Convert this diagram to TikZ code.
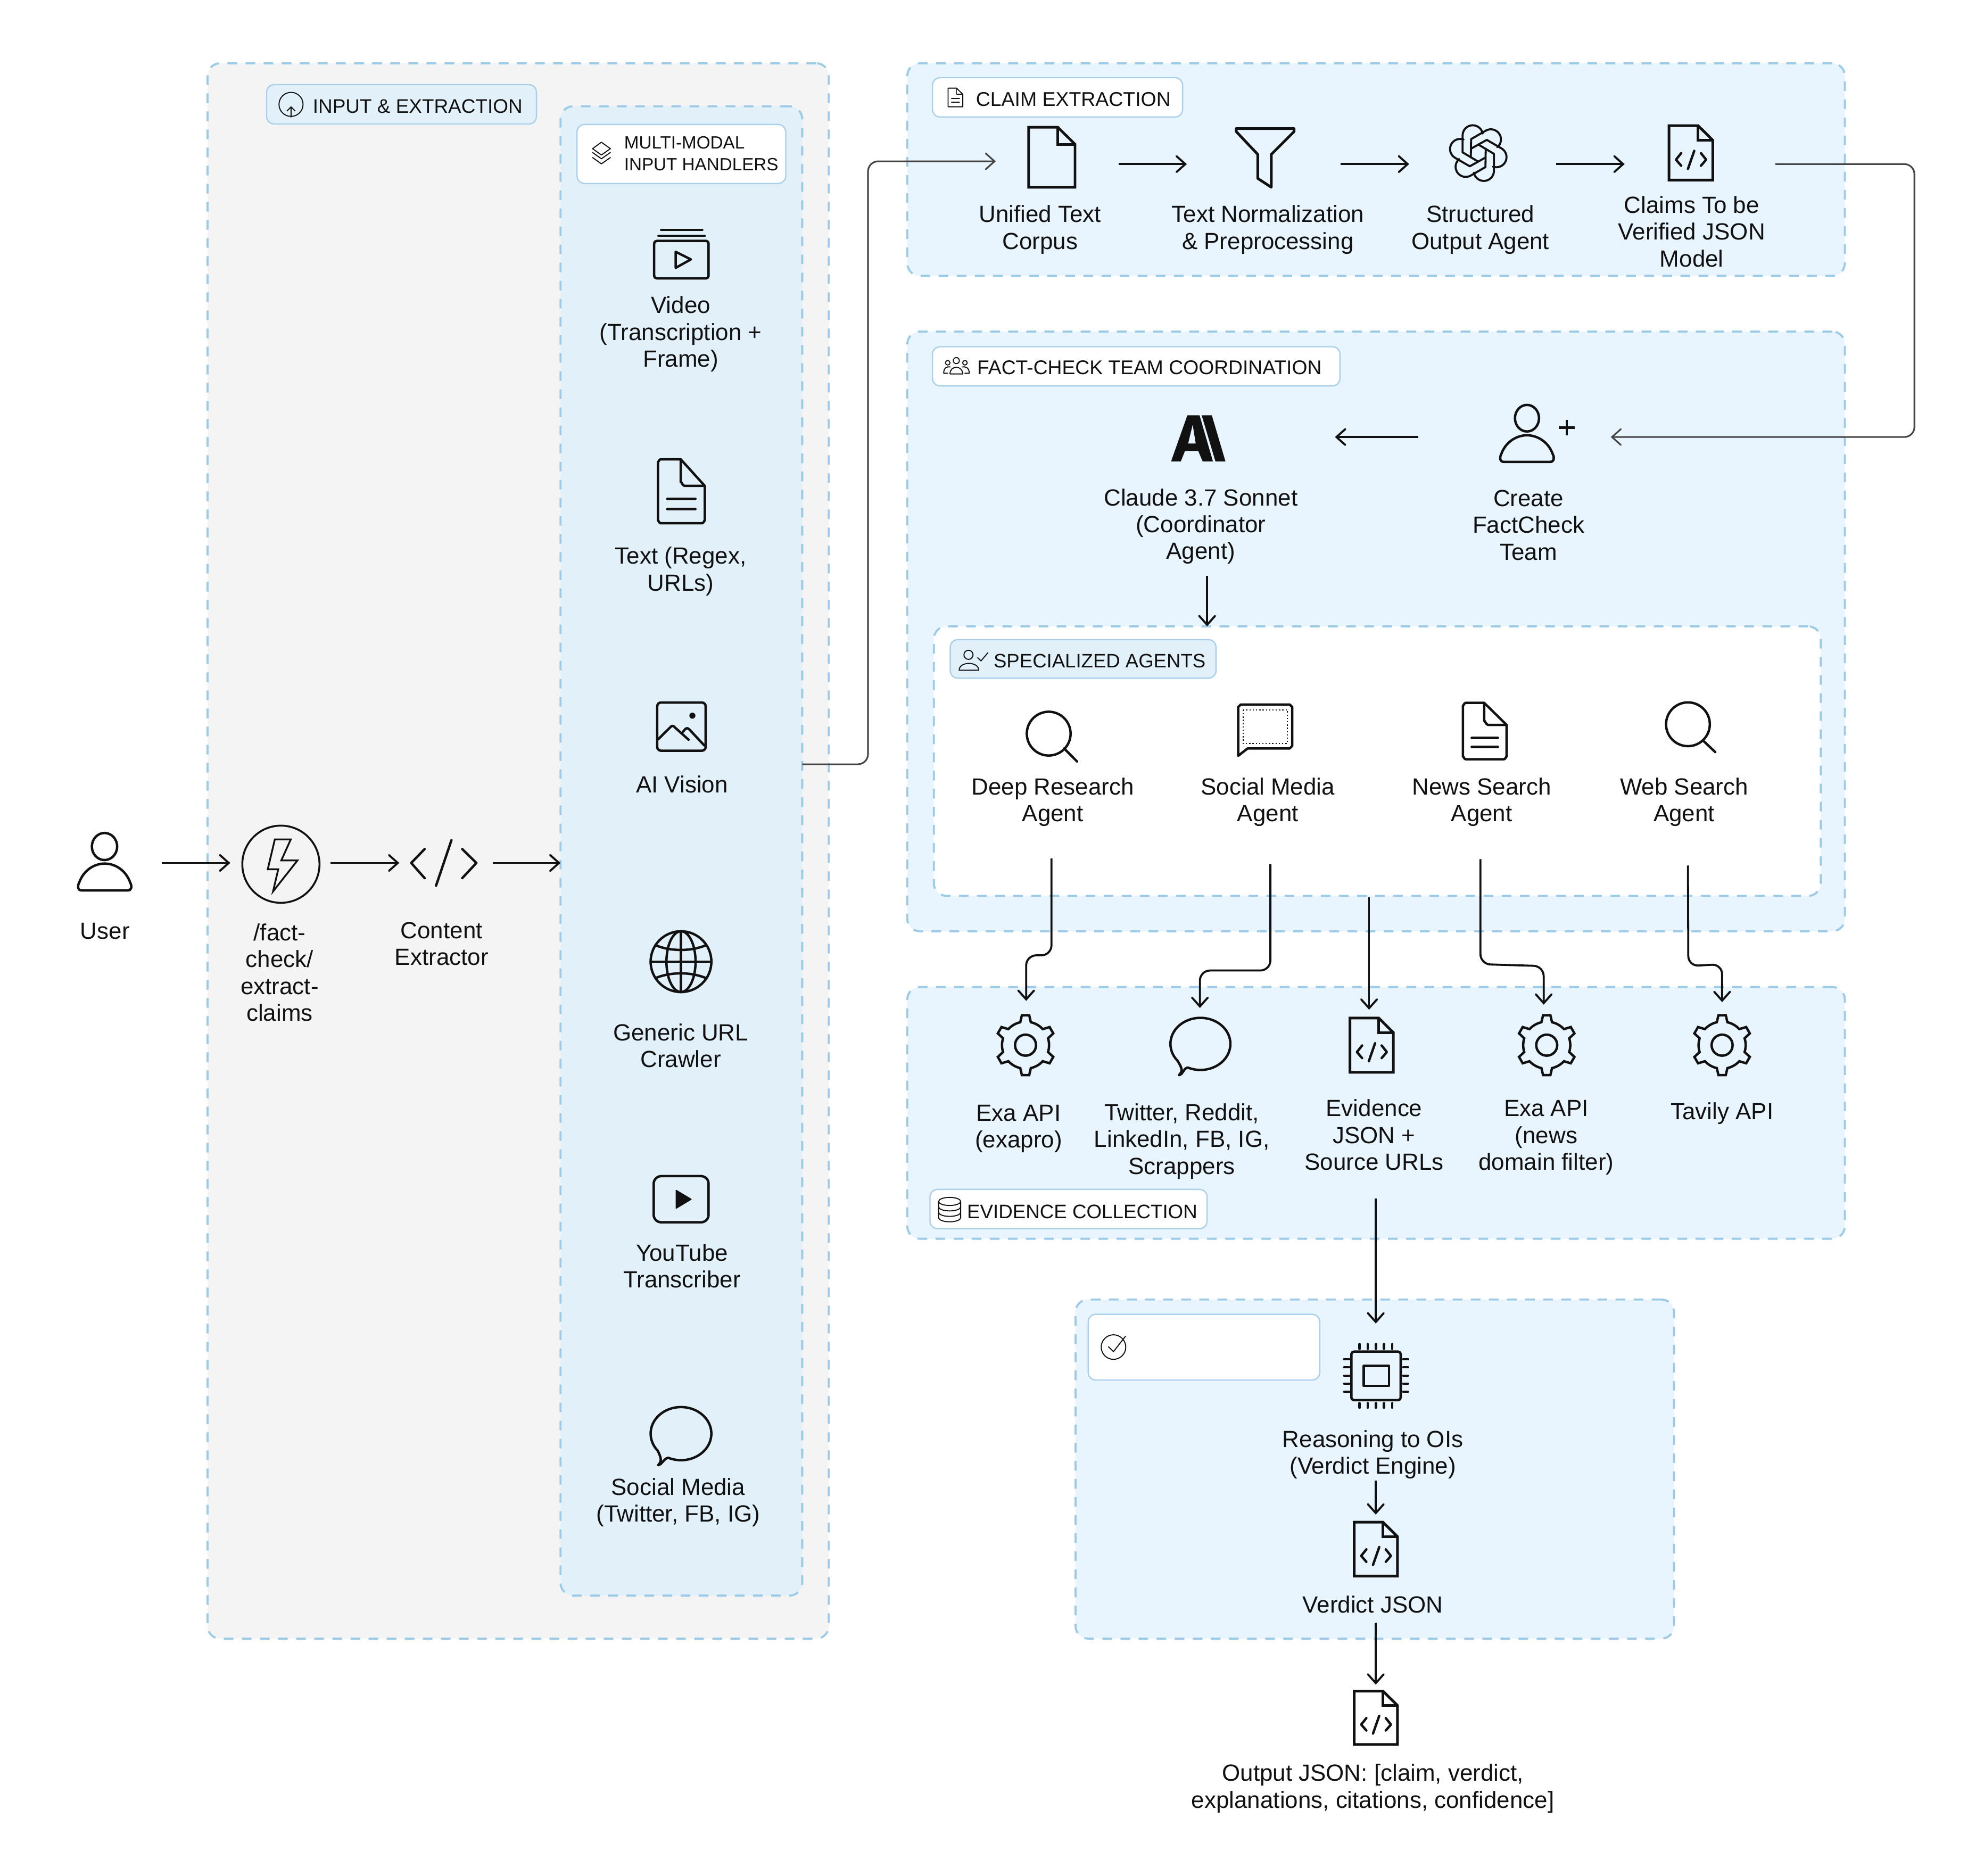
\documentclass[tikz,border=0pt]{standalone}
\usepackage{fontspec}
\setmainfont{Liberation Sans}
\usetikzlibrary{arrows.meta,calc}
\newlength\U
\setlength\U{0.023776cm}
\definecolor{dashblue}{HTML}{9CCBE8}
\definecolor{chipline}{HTML}{A8D0EA}
\definecolor{greyfill}{HTML}{F4F4F4}
\definecolor{handfill}{HTML}{E2F1F9}
\definecolor{panelfill}{HTML}{E8F4FE}
\definecolor{ink}{HTML}{111111}
\definecolor{softink}{HTML}{444444}
\tikzset{
  panel/.style={draw=dashblue,line width=1.6\U,dash pattern=on 7.6\U off 6.7\U,rounded corners=10\U,inner sep=0pt,outer sep=0pt},
  chip/.style={draw=chipline,line width=1\U,rounded corners=6\U,inner sep=0pt,outer sep=0pt},
  ibox/.style={inner sep=0pt,outer sep=0pt},
  lab/.style={align=center,inner sep=0pt,text=ink,font=\fontsize{12.5}{14.34}\selectfont},
  chiptext/.style={anchor=west,align=left,inner sep=0pt,text=ink,font=\fontsize{10.5}{11.6}\selectfont},
  ic/.style={draw=ink,line width=1.9\U,line join=round,line cap=round},
  icsq/.style={draw=ink,line width=2.1\U,line join=miter},
  icthin/.style={draw=ink,line width=.8\U,line join=round,line cap=round},
  arr/.style={draw=ink,line width=1.6\U,-{Straight Barb[length=4.74pt,width=8.46pt,line cap=round]},rounded corners=8\U},
  arrsoft/.style={draw=softink,line width=1.3\U,-{Straight Barb[length=4.74pt,width=8.46pt,line cap=round]},rounded corners=8\U},
}
\newcommand\Ibox[5]{\node[ibox,minimum width={(#4-#2)*\U},minimum height={(#5-#3)*\U}] (#1) at ({(#2+#4)/2},{(#3+#5)/2}) {};}
\newcommand\Panel[6]{\node[panel,fill=#6,minimum width={(#4-#2)*\U},minimum height={(#5-#3)*\U}] (#1) at ({(#2+#4)/2},{(#3+#5)/2}) {};}
\newcommand\Chip[6]{\node[chip,fill=#6,minimum width={(#4-#2)*\U},minimum height={(#5-#3)*\U}] (#1) at ({(#2+#4)/2},{(#3+#5)/2}) {};}
\newcommand\Lab[4]{\node[lab] (#1) at (#2,#3) {#4};}
\newcommand\Body[5][ic]{%
  \draw[#1] ({#2+3},#5) -- ({#3-3},#5)
   .. controls (#3,#5) and ({#3+.5},{#5-3}) .. ({#3-1},{#5-6})
   .. controls ({#3-5},{#4+4}) and ({(#2+#3)/2+7},#4) .. ({(#2+#3)/2},#4)
   .. controls ({(#2+#3)/2-7},#4) and ({#2+5},{#4+4}) .. ({#2+1},{#5-6})
   .. controls ({#2-.5},{#5-3}) and (#2,#5) .. ({#2+3},#5) -- cycle;}
% square document with code brackets
\newcommand\CodeDoc[4]{%
  \begin{scope}[shift={(#1,#2)},xscale=#3,yscale=#4]
    \draw[icsq] (0,0) -- (.665,0) -- (1,.267) -- (1,1) -- (0,1) -- cycle;
    \draw[icsq] (.665,0) -- (.665,.267) -- (1,.267);
    \draw[ic] (.28,.505) -- (.16,.626) -- (.28,.737);
    \draw[ic] (.73,.505) -- (.85,.626) -- (.73,.737);
    \draw[ic] (.578,.463) -- (.434,.795);
  \end{scope}}
% rounded document with two lines
\newcommand\LineDoc[8]{%
  \draw[#8] ({#1+2},#2) -- (#5,#2) -- (#3,#6) -- (#3,{#4-2}) to[out=90,in=0] ({#3-2},#4) -- ({#1+2},#4) to[out=180,in=90] (#1,{#4-2}) -- (#1,{#2+2}) to[out=-90,in=180] ({#1+2},#2) -- cycle;
  \draw[#8] (#5,#2) -- (#5,{#6-3}) to[out=90,in=180] ({#5+3},#6) -- (#3,#6);
  \draw[#8] ({#1+.2*(#3-#1)},{#2+.62*(#4-#2)}) -- ({#3-.2*(#3-#1)},{#2+.62*(#4-#2)});
  \draw[#8] ({#1+.2*(#3-#1)},{#2+.78*(#4-#2)}) -- ({#3-.2*(#3-#1)},{#2+.78*(#4-#2)});}
\newcommand\Bubble[6]{%
  \draw[ic] ({#1+#3*cos(140)},{#2+#4*sin(140)}) arc[start angle=140,end angle=475,x radius=#3,y radius=#4]
    .. controls ({#1+#3*cos(115)-4},{#2+#4*sin(115)+1}) and ({#5+4},{#6-1}) .. (#5,#6)
    .. controls ({#5+3},{#6-3}) and ({#5+3},{#6-5}) .. cycle;}
\newcommand\Gear[2]{%
  \begin{scope}[shift={(#1,#2)}]
    \draw[ic,line join=miter] (77:18.6) \foreach \a in {90,150,210,270,330,390}{
       -- ({\a-13}:18.6) -- ({\a-7}:23.8) -- ({\a+7}:23.8) -- ({\a+13}:18.6)
       arc[start angle={\a+13},end angle={\a+47},radius=18.6] } -- cycle;
    \draw[ic] (0,0) circle[radius=8.3];
  \end{scope}}
\newcommand\Lens[6]{%
  \draw[ic] (#1,#2) circle[radius=#3];
  \draw[ic] (#4,{#5}) -- #6;}
\begin{document}
\begin{tikzpicture}[x=0.023776cm,y=-0.023776cm]
\useasboundingbox (0,0) rectangle (1568,1482.2);
\fill[white] (0,0) rectangle (1568,1482.2);

% ---------- panels
\Panel{input}{164}{50}{655}{1295}{greyfill}
\Panel{handlers}{443}{84}{634}{1261}{handfill}
\Panel{claim}{717}{50}{1458}{218}{panelfill}
\Panel{factcheck}{717}{262}{1458}{736}{panelfill}
\Panel{special}{738}{495}{1439}{708}{white}
\Panel{evidence}{717}{780}{1458}{979}{panelfill}
\Panel{verdict}{850}{1027}{1323}{1295}{panelfill}

% ---------- chips
\Chip{chipinput}{210.7}{66.9}{424}{98}{handfill}
\node[chiptext] (tinput) at (247,84) {INPUT \& EXTRACTION};
\draw[icthin] (230,92) arc[start angle=90,end angle=450,radius=9.5];
\draw[icthin] (230,92.5) -- (230,84.5) (226.8,87.7) -- (230,84.5) -- (233.2,87.7);

\Chip{chipmulti}{456}{98.4}{621}{145}{white}
\node[chiptext,font=\fontsize{9.45}{11.6}\selectfont] (tmulti) at (493,121.5) {MULTI-MODAL\\INPUT HANDLERS};
\draw[icthin] (475.3,112.4) -- (482.4,117.5) -- (475.3,122.5) -- (468.3,117.5) -- cycle;
\draw[icthin] (468.3,120.5) -- (475.3,125.5) -- (482.4,120.5);
\draw[icthin] (468.3,124.5) -- (475.3,129.5) -- (482.4,124.5);

\Chip{chipclaim}{737}{61.4}{934.6}{92.5}{white}
\node[chiptext,font=\fontsize{10.65}{11.6}\selectfont] (tclaim) at (771,78.5) {CLAIM EXTRACTION};
\draw[icthin] (749.3,69.7) -- (756,69.7) -- (760.9,74.5) -- (760.9,84.4) -- (749.3,84.4) -- cycle;
\draw[icthin] (756,69.7) -- (756,74.5) -- (760.9,74.5) (752,78) -- (758.3,78) (752,80.8) -- (758.3,80.8);

\Chip{chipfact}{737}{274}{1059}{305}{white}
\node[chiptext,font=\fontsize{10.6}{11.6}\selectfont] (tfact) at (772,290.5) {FACT-CHECK TEAM COORDINATION};
\draw[icthin] (755.8,285) circle[radius=2.4] (749,286.7) circle[radius=1.8] (762.6,286.7) circle[radius=1.8];
\draw[icthin] (750.8,295.5) .. controls (750.8,288.5) and (760.8,288.5) .. (760.8,295.5) -- cycle;
\draw[icthin] (749,295) -- (745.8,295) .. controls (745.8,290.5) and (748.5,289.5) .. (751,290);
\draw[icthin] (762.5,295) -- (766,295) .. controls (766,290.5) and (763,289.5) .. (760.5,290);

\Chip{chipspec}{751}{505.5}{961}{536}{handfill}
\node[chiptext,font=\fontsize{10.4}{11.6}\selectfont] (tspec) at (785,522.5) {SPECIALIZED AGENTS};
\draw[icthin] (765.4,517.5) circle[radius=3.6];
\draw[icthin] (758,529.7) .. controls (758,522.5) and (773.5,522.5) .. (773.5,529.7) -- cycle;
\draw[icthin] (772.7,519.8) -- (775.3,522.3) -- (780.7,515.9);

\Chip{chipevid}{735}{940}{954}{971}{white}
\node[chiptext,font=\fontsize{10.45}{11.6}\selectfont] (tevid) at (764,957.5) {EVIDENCE COLLECTION};
\draw[icthin] (750.5,949.5) circle[x radius=8.7,y radius=3.2];
\draw[icthin] (741.8,949.5) -- (741.8,962.4) arc[start angle=180,end angle=0,x radius=8.7,y radius=3.2] -- (759.2,949.5);
\draw[icthin] (741.8,953.8) arc[start angle=180,end angle=0,x radius=8.7,y radius=3.2];
\draw[icthin] (741.8,958.1) arc[start angle=180,end angle=0,x radius=8.7,y radius=3.2];

\Chip{chipverd}{860}{1038.7}{1043}{1090.6}{white}
\draw[icthin] (880,1064.6) circle[radius=9.7];
\draw[icthin] (876,1064.3) -- (880,1068.2) -- (889.5,1056);

% ---------- left column
\Ibox{user}{61}{658}{128}{706}
\draw[ic] (82.6,669) circle[x radius=10,y radius=10.7];
\Body{61.5}{104}{682.5}{703.7}
\Lab{luser}{83}{736}{User}

\Ibox{api}{182}{652}{261}{712}
\draw[draw=ink,line width=1.5\U] (222,683) circle[radius=30.5];
\draw[draw=ink,line width=1.4\U,line join=miter] (217.2,663.4) -- (229.8,663.4) -- (222.3,680) -- (235.1,680) -- (215.8,704.5) -- (219.9,687) -- (211.6,687) -- cycle;
\Lab{lapi}{221}{768.5}{/fact-\\check/\\extract-\\claims}

\Ibox{extractor}{315.6}{664}{389.5}{700}
\draw[ic] (335.6,671) -- (325,682) -- (335.6,694);
\draw[ic] (356.8,664) -- (344.6,700);
\draw[ic] (365.3,671) -- (376.5,682) -- (365.3,694);
\Lab{lextractor}{349}{746}{Content\\Extractor}

% ---------- handlers
\Ibox{video}{517}{181}{560}{220}
\draw[ic,rounded corners=2\U] (517,190.4) rectangle (560,220);
\draw[ic] (520.4,186.4) -- (557,186.4);
\draw[ic] (522.5,181.7) -- (555,181.7);
\draw[ic] (534,199) -- (546,205) -- (534,211.7) -- cycle;
\Lab{lvideo}{538}{264}{Video\\(Transcription +\\Frame)}

\Ibox{textdoc}{520}{363}{557}{413.5}
\LineDoc{520}{363}{557}{413.5}{538}{384}{}{ic}
\Lab{ltext}{538}{451.5}{Text (Regex,\\URLs)}

\Ibox{vision}{519.4}{555.2}{634}{653}
\draw[ic,rounded corners=3\U] (519.4,555.2) rectangle (557.7,593.3);
\fill[ink] (547.2,565.6) circle[radius=2.4];
\draw[ic] (520.1,584.3) -- (529.5,575) .. controls (531,573.2) and (532,573.2) .. (533.5,575) -- (544.2,584.6);
\draw[ic] (539.8,578.3) -- (541.3,576.5) .. controls (542.5,575.2) and (543.5,575.2) .. (544.8,576.5) -- (556.6,589.1);
\Lab{lvision}{539}{620}{AI Vision}

\Ibox{globe}{514}{736}{562.4}{784}
\draw[ic] (538.2,760) circle[radius=24];
\draw[ic] (538.2,760) circle[x radius=11.5,y radius=24];
\draw[ic] (538.2,736) -- (538.2,784) (514.2,760) -- (562.2,760);
\draw[ic] (518,747) .. controls (530,752) and (546,752) .. (558,747);
\draw[ic] (518,773) .. controls (530,768) and (546,768) .. (558,773);
\Lab{lglobe}{538}{826.5}{Generic URL\\Crawler}

\Ibox{youtube}{516.6}{929.5}{560}{966}
\draw[ic,rounded corners=6\U] (516.6,929.5) rectangle (560,966);
\fill[ink,rounded corners=.8\U] (534,940) -- (547,947.8) -- (534,955.6) -- cycle;
\Lab{lyoutube}{539}{1000.5}{YouTube\\Transcriber}

\Ibox{bubbleA}{514}{1112}{562}{1158}
\Bubble{538.2}{1133}{24}{21}{520}{1158}
\Lab{lbubbleA}{536}{1187.5}{Social Media\\(Twitter, FB, IG)}

% ---------- claim extraction
\Ibox{unified}{787}{101}{884}{154}
\draw[icsq] (813,100.6) -- (836,100.6) -- (849.6,114) -- (849.6,148) -- (813,148) -- cycle;
\draw[icsq] (836,100.6) -- (836,114) -- (849.6,114);
\Lab{lunified}{822}{181.5}{Unified Text\\Corpus}

\Ibox{funnel}{938}{101.7}{1059.5}{157.7}
\draw[icsq,line join=round] (977,101.6) -- (1022.7,101.6) -- (1022.7,104) -- (1004.7,122) -- (1004.7,148) -- (994,141) -- (994,122) -- (977,104) -- cycle;
\Lab{lfunnel}{1002}{181.5}{Text Normalization\\\& Preprocessing}

\Ibox{openai}{1113.7}{99}{1230}{160.4}
\begin{scope}[shift={(1168.3,121)}]
  \foreach \a in {0,60,120,180,240,300}{
    \draw[ic,line width=1.6\U,rotate=\a] (-.5,6.5) -- (-12.4,-.6) -- (-12.4,-14) arc[start angle=180,end angle=350,radius=8];
  }
\end{scope}
\Lab{lopenai}{1170}{181.5}{Structured\\Output Agent}

\Ibox{claimsdoc}{1284}{99}{1403}{160.4}
\CodeDoc{1319}{99.3}{34.6}{43}
\Lab{lclaimsdoc}{1337}{183}{Claims To be\\Verified JSON\\Model}

% ---------- fact-check team
\Ibox{create}{1120.8}{320}{1273}{370.8}
\draw[ic] (1206.8,330.5) circle[x radius=9.5,y radius=10.5];
\Body{1185.4}{1228.2}{344}{365}
\draw[draw=ink,line width=2\U] (1232,337.9) -- (1244.4,337.9) (1238.2,331.7) -- (1238.2,344.1);
\Lab{lcreate}{1208}{415}{Create\\FactCheck\\Team}

\Ibox{claude}{920}{326.4}{1055}{364.4}
\fill[ink,even odd rule] (925.5,364.7) -- (938.4,328.2) -- (948,328.2) -- (958.6,364.7) -- (950.5,364.7) -- (947,356.4) -- (936.5,356.4) -- (933.2,364.7) -- cycle
  (939,350.5) -- (945,350.5) -- (942.6,335.5) -- cycle;
\fill[ink] (949.7,328.2) -- (957.7,328.2) -- (968.5,364.7) -- (960.6,364.7) -- cycle;
\Lab{lclaude}{949}{416}{Claude 3.7 Sonnet\\(Coordinator\\Agent)}
\coordinate (claudeout) at (954,455);

% ---------- specialised agents
\Ibox{deep}{770}{555}{892}{678.5}
\Lens{828.8}{579.8}{17.3}{841}{591.5}{(851.2,601.8)}
\Lab{ldeep}{832}{634}{Deep Research\\Agent}

\Ibox{socialag}{950}{555}{1058}{683}
\draw[ic] (980.6,556.8) -- (1019.3,556.8) -- (1021.3,558.8) -- (1021.3,589.5) -- (1019.3,591.5) -- (986,591.5) -- (978.6,597.3) -- (978.6,558.8) -- cycle;
\draw[draw=ink,line width=.9\U,dash pattern=on 1\U off 1.6\U] (982.4,561) rectangle (1017.5,587.4);
\Lab{lsocialag}{1002}{634}{Social Media\\Agent}

\Ibox{news}{1120}{555}{1220}{679}
\LineDoc{1156.2}{555.5}{1190.7}{600}{1173}{572.9}{}{ic}
\Lab{lnews}{1171}{634}{News Search\\Agent}

\Ibox{webag}{1280}{555}{1388}{684}
\Lens{1334}{572.4}{17.3}{1346}{585.3}{(1355.6,594.4)}
\Lab{lwebag}{1331}{634}{Web Search\\Agent}

\coordinate (specout) at (1082,709);

% ---------- evidence
\Ibox{exaA}{788}{791}{834}{850}
\Gear{810.5}{826}
\Lab{lexaA}{805}{892}{Exa API\\(exapro)}

\Ibox{twitter}{925}{796.6}{971.6}{850}
\Bubble{948.7}{825}{23.7}{20.6}{931.7}{849.7}
\Lab{ltwitter}{934}{902}{Twitter, Reddit,\\LinkedIn, FB, IG,\\Scrappers}

\Ibox{evdoc}{1062}{798}{1102}{848}
\CodeDoc{1066.9}{804.6}{34.3}{42.9}
\Lab{levdoc}{1086}{897}{Evidence\\JSON +\\Source URLs}
\coordinate (evout) at (1087.3,947);

\Ibox{exaB}{1200}{794}{1240}{850}
\Gear{1222.4}{826}
\Lab{lexaB}{1222}{899}{Exa API\\(news\\domain filter)}

\Ibox{tavily}{1338}{792}{1384}{850}
\Gear{1361}{826}
\Lab{ltavily}{1361}{880}{Tavily API}

% ---------- verdict
\Ibox{chipicon}{1062}{1046}{1112.6}{1170}
\draw[ic,rounded corners=2\U] (1068,1068.2) rectangle (1107,1106.5);
\draw[ic] (1077.7,1079.4) rectangle (1097.7,1095.3);
\foreach \p in {1074.5,1081,1087.4,1093.8,1100.3}{
  \draw[ic] (\p,1062.2) -- (\p,1066);
  \draw[ic] (\p,1108.9) -- (\p,1112.5);
}
\foreach \p in {1074.2,1080.6,1087.2,1093.5,1099.9}{
  \draw[ic] (1062.3,\p) -- (1066.3,\p);
  \draw[ic] (1109,\p) -- (1112.8,\p);
}
\Lab{lchipicon}{1085}{1149.5}{Reasoning to OIs\\(Verdict Engine)}

\Ibox{verddoc}{1070.3}{1197}{1104.3}{1282.2}
\CodeDoc{1070.3}{1203}{34.1}{42.5}
\Lab{lverddoc}{1085}{1268}{Verdict JSON}

\Ibox{outdoc}{1070.3}{1331.4}{1104.3}{1379}
\CodeDoc{1070.3}{1336.5}{34.1}{42.2}
\Lab{loutdoc}{1085}{1413.5}{Output JSON: [claim, verdict,\\explanations, citations, confidence]}

% ---------- connectors
\draw[arr] (user.east) -- (api.west);
\draw[arr] (api.east) -- (extractor.west);
\draw[arr] (extractor.east) -- (extractor.east -| handlers.west);

\coordinate (visionout) at (634,604);
\draw[arrsoft] (visionout) -- (686,604) -- (686,127.5) -- (unified.west);
\draw[arr] (unified.east |- funnel.west) -- (funnel.west);
\draw[arr] (funnel.east) -- (openai.west);
\draw[arr] (openai.east) -- (claimsdoc.west);
\draw[arrsoft] (claimsdoc.east) -- (1513,129.7) -- (1513,345.4) -- (create.east);
\draw[arr] (create.west) -- (claude.east);
\draw[arr] (claudeout) -- (claudeout |- special.north);

\draw[arr] (deep.south) -- (deep.south |- 0,755) -- (exaA.north |- 0,755) -- (exaA.north);
\draw[arr] (socialag.south) -- (socialag.south |- 0,767) -- (twitter.north |- 0,767) -- (twitter.north);
\draw[arr] (specout) -- (specout |- evdoc.north);
\draw[arr] (news.south) -- (1170,762) -- (1220,763.5) -- (exaB.north);
\draw[arr] (webag.south) -- (1334.3,763.5) -- (1361,762) -- (tavily.north);

\draw[arr] (evout) -- (evout |- chipicon.north);
\draw[arr] (chipicon.south) -- (verddoc.north);
\draw[arr] (verddoc.south) -- (outdoc.north);
\end{tikzpicture}
\end{document}
